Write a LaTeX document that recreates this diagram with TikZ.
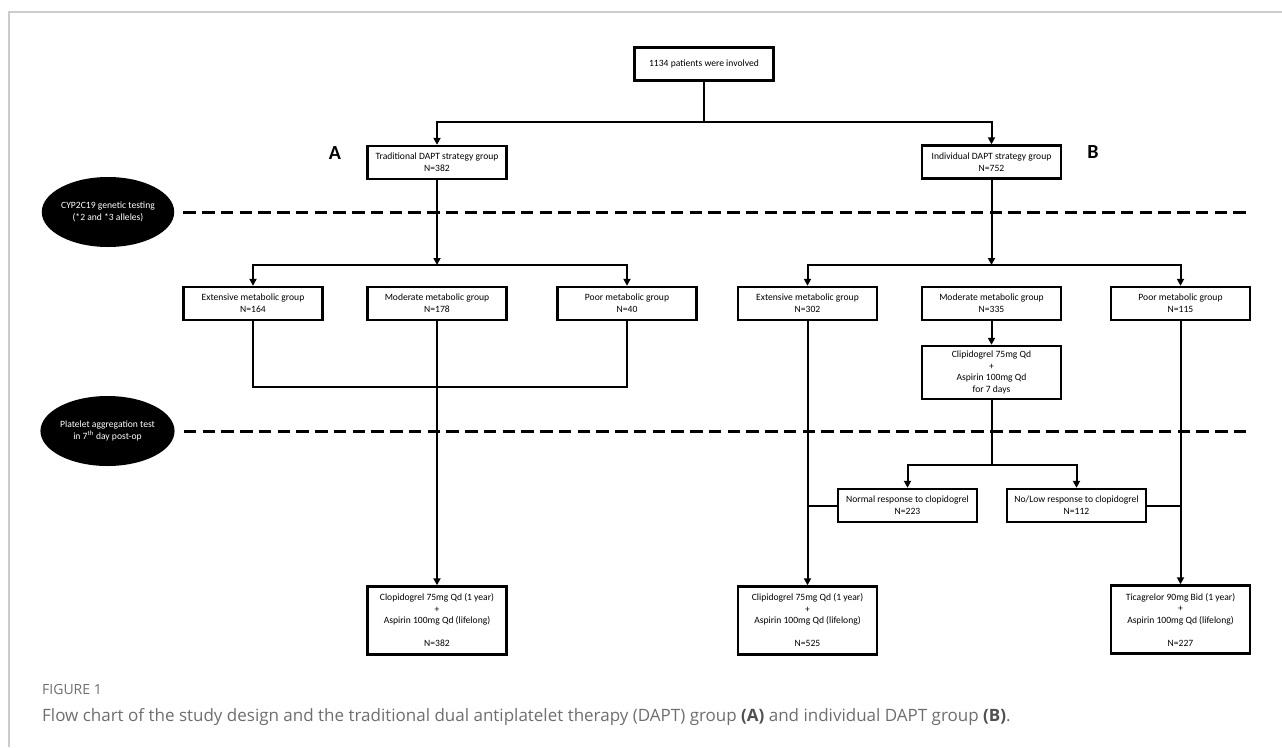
\documentclass[tikz,border=0pt]{standalone}
\usepackage{fontspec}
\setmainfont{Carlito}
\newfontfamily\capfont{Open Sans}
\usetikzlibrary{arrows.meta,shapes.geometric}
\definecolor{framegray}{HTML}{CCCCCC}
\definecolor{capgray}{HTML}{6E6E6E}
\definecolor{capdark}{HTML}{505050}
\begin{document}
\begin{tikzpicture}[x=1pt,y=-1pt,
  box/.style={draw, line width=2.4pt, fill=white, minimum width=139pt, minimum height=33pt,
    inner sep=0pt, align=center, font=\fontsize{9.6}{12}\selectfont},
  tallbox/.style={box, font=\fontsize{9.6}{11.5}\selectfont},
  conn/.style={line width=2pt},
  arr/.style={conn, -{Triangle[length=7pt,width=7pt]}},
  dline/.style={line width=3pt, dash pattern=on 12.5pt off 6.25pt},
  oval/.style={ellipse, fill=black, text=white, minimum width=122pt, minimum height=70pt,
    inner sep=0pt, align=center, font=\fontsize{9.6}{12}\selectfont},
  lab/.style={font=\fontsize{20}{20}\selectfont\bfseries, inner sep=0pt}
]
\useasboundingbox (0,0) rectangle (1282,747);
% frame
\draw[framegray, line width=1.5pt] (1282,12) -- (9,12) -- (9,747);

% ellipses and dashed lines
\node[oval] (g1) at (108,212) {CYP2C19 genetic testing\\(*2 and *3 alleles)};
\node[oval] (g2) at (107.5,431) {Platelet aggregation test\\in 7\textsuperscript{th} day post-op};
\coordinate (d1) at (1251,212);
\coordinate (d2) at (1251,431);
\draw[dline] ([xshift=9pt]g1.east) -- (d1);
\draw[dline] ([xshift=9pt]g2.east) -- (d2);

% boxes
\node[box] (top) at (704,64) {1134 patients were involved};
\node[box] (trad) at (437,162.5) {Traditional DAPT strategy group\\N=382};
\node[box] (indiv) at (991.5,162) {Individual DAPT strategy group\\N=752};
\node[lab] (A) at (335,153) {A};
\node[lab] (B) at (1093,152) {B};

\node[box] (e1) at (253,303.5) {Extensive metabolic group\\N=164};
\node[box] (m1) at (437,303.5) {Moderate metabolic group\\N=178};
\node[box] (p1) at (627,303.5) {Poor metabolic group\\N=40};
\node[box] (e2) at (807.5,303.5) {Extensive metabolic group\\N=302};
\node[box] (m2) at (991.5,303.5) {Moderate metabolic group\\N=335};
\node[box] (p2) at (1180.5,303.5) {Poor metabolic group\\N=115};

\node[tallbox, minimum height=53pt] (clip) at (991.5,372.5)
  {Clipidogrel 75mg Qd\\+\\Aspirin 100mg Qd\\for 7 days};
\node[box] (normal) at (907.5,505.5) {Normal response to clopidogrel\\N=223};
\node[box] (nolow) at (1076.5,505.5) {No/Low response to clopidogrel\\N=112};

\node[tallbox, minimum height=68pt] (bl) at (437,620.5)
  {Clopidogrel 75mg Qd (1 year)\\+\\Aspirin 100mg Qd (lifelong)\\[11.5pt]N=382};
\node[tallbox, minimum height=68pt] (bm) at (807.5,620.5)
  {Clipidogrel 75mg Qd (1 year)\\+\\Aspirin 100mg Qd (lifelong)\\[11.5pt]N=525};
\node[tallbox, minimum height=68pt] (br) at (1180.5,619.5)
  {Ticagrelor 90mg Bid (1 year)\\+\\Aspirin 100mg Qd (lifelong)\\[11.5pt]N=227};

% connectors
\coordinate (j1) at (704,121.7);
\draw[conn] (top.south) -- (j1);
\draw[arr] (j1) -| (trad.north);
\draw[arr] (j1) -| (indiv.north);

\coordinate (j2) at (437,265);
\coordinate (j3) at (991.5,265);
\draw[arr] (trad.south) -- (j2);
\draw[arr] (indiv.south) -- (j3);
\draw[arr] (j2) -| (e1.north);
\draw[arr] (j2) -| (p1.north);
\draw[arr] (j3) -| (e2.north);
\draw[arr] (j3) -| (p2.north);

\coordinate (hR) at (627,387);
\draw[conn] (e1.south) |- (hR) -- (p1.south);
\draw[arr] (m1.south) -- (bl.north);

\draw[arr] (e2.south) -- (bm.north);
\draw[conn] (normal.west) -- (normal.west -| e2.south);
\draw[arr] (m2.south) -- (clip.north);
\coordinate (j5) at (991.5,465);
\draw[conn] (clip.south) -- (j5);
\draw[arr] (j5) -| (normal.north);
\draw[arr] (j5) -| (nolow.north);
\draw[conn] (nolow.east) -- (nolow.east -| p2.south);
\draw[arr] (p2.south) -- (br.north);

% redraw boxes on top of connectors
\foreach \n in {top,trad,indiv,e1,m1,p1,e2,m2,p2,clip,normal,nolow,bl,bm,br} {}

% caption
\node[anchor=base west, inner sep=0pt, text=capgray, font=\capfont\fontsize{14}{14}\selectfont] (fig) at (42,694) {FIGURE 1};
\node[anchor=base west, inner sep=0pt, text=capgray, font=\capfont\fontsize{17}{17}\selectfont] (cap) at (42,721)
  {Flow chart of the study design and the traditional dual antiplatelet therapy (DAPT) group \textcolor{capdark}{\bfseries(A)} and individual DAPT group \textcolor{capdark}{\bfseries(B)}.};
\end{tikzpicture}
\end{document}
